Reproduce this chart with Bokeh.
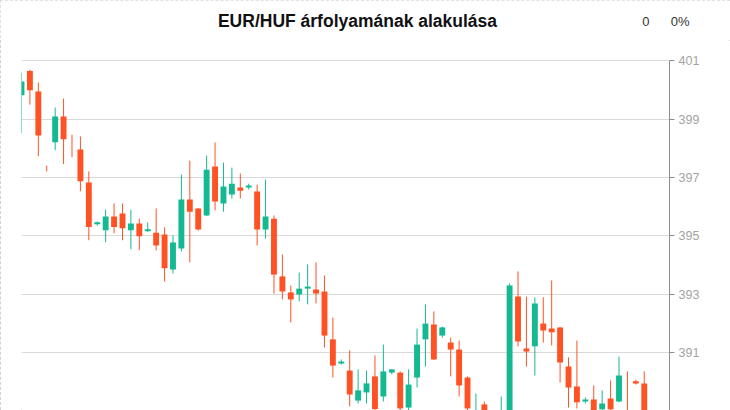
import numpy as np
from bokeh.plotting import figure
from bokeh.layouts import column, row
from bokeh.models import ColumnDataSource, Range1d, FixedTicker, Label
from bokeh.embed import file_html
from bokeh.resources import INLINE

title_text = "EUR/HUF árfolyamának alakulása"
change_abs = "0"
change_pct = "0%"
y_ticks = [389, 391, 393, 395, 397, 399, 401]

open_ = [399.82, 400.65, 399.95, 397.30, 398.21, 399.09, 398.10, 397.96, 396.83, 395.40,
         395.19, 395.66, 395.77, 395.19, 395.42, 395.16, 395.11, 395.05, 393.85, 394.57,
         396.25, 395.94, 395.70, 397.38, 396.11, 396.42, 396.66, 396.66, 396.52, 395.22,
         395.59, 393.61, 393.06, 392.99, 393.19, 393.16, 393.09, 391.45, 390.62, 390.38,
         389.35, 389.63, 390.18, 389.49, 390.31, 390.31, 389.11, 390.14, 391.45, 391.96,
         391.58, 391.34, 391.10, 390.14, 388.30, 389.22, 388.50, 388.10, 388.70, 392.92,
         391.14, 391.21, 391.99, 391.82, 391.86, 390.52, 389.83, 389.32, 389.39, 389.05,
         389.42, 389.32, 389.60, 390.01, 389.94]
high = [400.59, 400.70, 400.26, 397.41, 399.40, 399.71, 398.47, 398.41, 397.21, 395.49,
        395.90, 396.11, 396.11, 395.90, 395.59, 395.46, 395.94, 395.29, 395.01, 397.10,
        397.58, 395.96, 397.75, 398.20, 397.51, 397.34, 397.14, 396.79, 396.76, 396.93,
        395.70, 394.36, 393.30, 393.74, 394.02, 394.09, 393.64, 392.20, 390.76, 391.07,
        390.42, 390.38, 390.90, 391.27, 390.43, 390.35, 390.42, 391.82, 392.65, 392.41,
        391.89, 391.51, 391.41, 390.18, 389.59, 389.32, 388.90, 389.49, 393.37, 393.78,
        392.92, 392.89, 392.89, 393.47, 391.87, 390.83, 391.41, 389.46, 389.87, 389.70,
        390.04, 390.86, 390.35, 390.07, 390.35]
low = [398.52, 399.50, 397.73, 397.21, 397.94, 397.46, 397.70, 396.53, 394.85, 395.35,
       394.78, 395.09, 394.85, 394.54, 394.51, 395.14, 394.50, 393.43, 393.71, 394.46,
       394.09, 395.18, 395.68, 395.87, 395.83, 396.28, 396.28, 396.59, 394.67, 394.91,
       393.02, 392.82, 392.03, 392.75, 392.65, 392.68, 391.17, 390.14, 390.59, 389.15,
       389.25, 389.25, 389.01, 389.32, 390.25, 389.01, 389.00, 389.80, 390.52, 390.74,
       391.51, 390.18, 389.49, 388.90, 388.00, 388.30, 387.80, 387.90, 388.50, 391.21,
       390.52, 390.21, 391.34, 391.24, 389.97, 389.11, 389.08, 389.25, 388.80, 389.00,
       389.01, 389.29, 388.50, 389.90, 388.70]
close = [400.29, 399.99, 398.44, 397.30, 399.09, 398.31, 398.10, 396.87, 395.30, 395.47,
         395.66, 395.30, 395.26, 395.42, 394.99, 395.23, 394.67, 393.89, 394.77, 396.25,
         395.83, 395.22, 397.27, 396.18, 396.69, 396.79, 396.55, 396.73, 395.22, 395.66,
         393.67, 393.09, 392.82, 393.19, 393.26, 393.02, 391.58, 390.55, 390.69, 389.56,
         389.70, 389.94, 389.06, 390.35, 390.42, 389.08, 389.90, 391.27, 391.99, 390.76,
         391.86, 391.10, 389.87, 389.08, 388.80, 388.60, 388.10, 388.70, 393.30, 391.38,
         391.03, 392.68, 391.75, 391.69, 390.66, 389.80, 389.29, 389.39, 388.95, 389.25,
         389.05, 390.21, 389.60, 389.94, 388.90]

GREEN = "#15b991"
RED = "#ff5224"

x = list(range(len(open_)))
colors = [GREEN if c > o else RED for o, c in zip(open_, close)]
top = [max(o, c) for o, c in zip(open_, close)]
bottom = [min(o, c) for o, c in zip(open_, close)]
src = ColumnDataSource(dict(x=x, high=high, low=low, top=top, bottom=bottom, color=colors))

# header strip with the title and the change figures (pixel-like coordinates)
head = figure(width=730, height=40, output_backend="svg", toolbar_location=None,
              x_range=Range1d(0, 730), y_range=Range1d(40, 0),
              x_axis_location=None, y_axis_location=None, min_border=0)
head.outline_line_color = None
head.grid.visible = False
head.border_fill_color = "white"
head.add_layout(Label(x=357, y=20.5, text=title_text, text_font="Liberation Sans",
                      text_font_style="bold", text_font_size="17.5px", text_color="#111111",
                      text_align="center", text_baseline="alphabetic"))
head.add_layout(Label(x=649, y=20.5, text=change_abs, text_font="Liberation Sans",
                      text_font_size="13px", text_color="#333333",
                      text_align="right", text_baseline="alphabetic"))
head.add_layout(Label(x=689, y=20.5, text=change_pct, text_font="Liberation Sans",
                      text_font_size="13px", text_color="#333333",
                      text_align="right", text_baseline="alphabetic"))

p = figure(width=730, height=370, output_backend="svg", toolbar_location=None,
           x_range=Range1d(0, 77), y_range=Range1d(389.01, 401.70),
           x_axis_location=None, y_axis_location="right",
           min_border_left=21, min_border_right=61, min_border_top=0, min_border_bottom=0)
p.outline_line_color = None
p.background_fill_color = "white"
p.border_fill_color = "white"
p.xgrid.visible = False
p.ygrid.grid_line_color = "#d9d9d9"
p.ygrid.grid_line_width = 1

ax = p.yaxis[0]
ax.ticker = FixedTicker(ticks=y_ticks)
ax.bounds = (min(y_ticks), max(y_ticks))
ax.axis_line_color = "#8c8c8c"
ax.major_tick_line_color = "#8c8c8c"
ax.major_tick_out = 5
ax.major_tick_in = 0
ax.minor_tick_line_color = None
ax.major_label_text_color = "#a3a3a3"
ax.major_label_text_font = "Liberation Sans"
ax.major_label_text_font_size = "12.5px"
ax.major_label_standoff = 4

p.segment(x0="x", y0="low", x1="x", y1="high", line_color="color", line_width=1, source=src)
p.vbar(x="x", width=0.7, top="top", bottom="bottom", fill_color="color", line_color=None, source=src)

layout = column(row(head, spacing=0), row(p, spacing=0), spacing=0)
layout.styles = {"outline": "1px dashed #c2c2c2", "outline-offset": "-1px"}
open("out.html", "w").write(file_html(layout, INLINE))
